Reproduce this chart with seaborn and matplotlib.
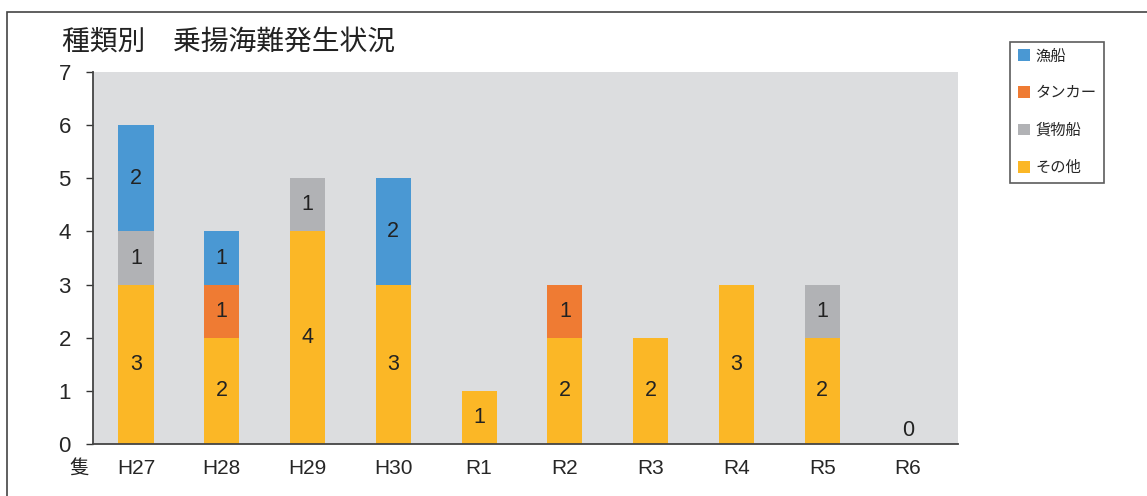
import pandas as pd
import matplotlib
matplotlib.use('Agg')
import matplotlib.pyplot as plt
from matplotlib.patches import Rectangle, Patch
import seaborn as sns

# データ（隻数）
years = ['H27', 'H28', 'H29', 'H30', 'R1', 'R2', 'R3', 'R4', 'R5', 'R6']
sonota = [3, 2, 4, 3, 1, 2, 2, 3, 2, 0]
kamotsu = [1, 0, 1, 0, 0, 0, 0, 0, 1, 0]
tanker = [0, 1, 0, 0, 0, 1, 0, 0, 0, 0]
gyosen = [2, 1, 0, 2, 0, 0, 0, 0, 0, 0]

colors = {'漁船': '#4A98D3', 'タンカー': '#EF7B33', '貨物船': '#B1B2B5', 'その他': '#FBB726'}

sns.set_style('white')
plt.rcParams['font.family'] = ['Liberation Sans', 'Noto Sans CJK JP', 'DejaVu Sans']

df = pd.DataFrame({'年度': years, 'その他': sonota, '貨物船': kamotsu,
                   'タンカー': tanker, '漁船': gyosen})
order = ['その他', '貨物船', 'タンカー', '漁船']
cum = df[order].cumsum(axis=1)

fig = plt.figure(figsize=(11.47, 4.96), dpi=100)
ax = fig.add_axes([0.0811, 0.1048, 0.7540, 0.75])
ax.set_facecolor('#DCDDDF')

# 積み上げ：合計の高い順に重ねて描く
for name in reversed(order):
    sns.barplot(x=df['年度'], y=cum[name], color=colors[name], width=0.41,
                saturation=1, ax=ax, linewidth=0)

# 数値ラベル
for i in range(len(years)):
    base = 0
    for name in order:
        v = df[name][i]
        if v > 0:
            ax.text(i, base + v / 2, str(v), ha='center', va='center',
                    fontsize=15.5, color='#222222')
        base += v
    if base == 0:
        ax.text(i, 0.05, '0', ha='center', va='bottom', fontsize=15.5, color='#222222')

ax.set_ylim(0, 7)
ax.set_xlim(-0.5, len(years) - 0.42)
ax.set_yticks(range(0, 8))
ax.set_xlabel('')
ax.set_ylabel('')
ax.tick_params(axis='y', direction='out', length=5, width=1, color='#333333',
               labelsize=16, pad=11, left=True)
ax.tick_params(axis='x', length=0, labelsize=15, pad=11)
for s in ['top', 'right']:
    ax.spines[s].set_visible(False)
for s in ['left', 'bottom']:
    ax.spines[s].set_color('#444444')
    ax.spines[s].set_linewidth(1.3)

fig.text(0.054, 0.913, '種類別　乗揚海難発生状況', fontsize=20, ha='left',
         va='center', color='#222222')
fig.text(0.069, 0.053, '隻', fontsize=14, ha='center', va='center', color='#222222')

handles = [Patch(facecolor=colors[n], edgecolor='none') for n in ['漁船', 'タンカー', '貨物船', 'その他']]
leg = fig.legend(handles, ['漁船', 'タンカー', '貨物船', 'その他'], loc='upper left',
                 bbox_to_anchor=(0.8806, 0.916), bbox_transform=fig.transFigure,
                 fontsize=11, frameon=True, fancybox=False, handlelength=0.8,
                 handleheight=0.8, handletextpad=0.35, labelspacing=1.5,
                 borderpad=0.5, borderaxespad=0)
leg.get_frame().set_edgecolor('#333333')
leg.get_frame().set_linewidth(1.2)

fig.add_artist(Rectangle((0.0061, -0.1), 1.2, 0.9758 + 0.1, transform=fig.transFigure,
                         fill=False, edgecolor='#444444', linewidth=1.2))

fig.savefig('out.png', dpi=100)
